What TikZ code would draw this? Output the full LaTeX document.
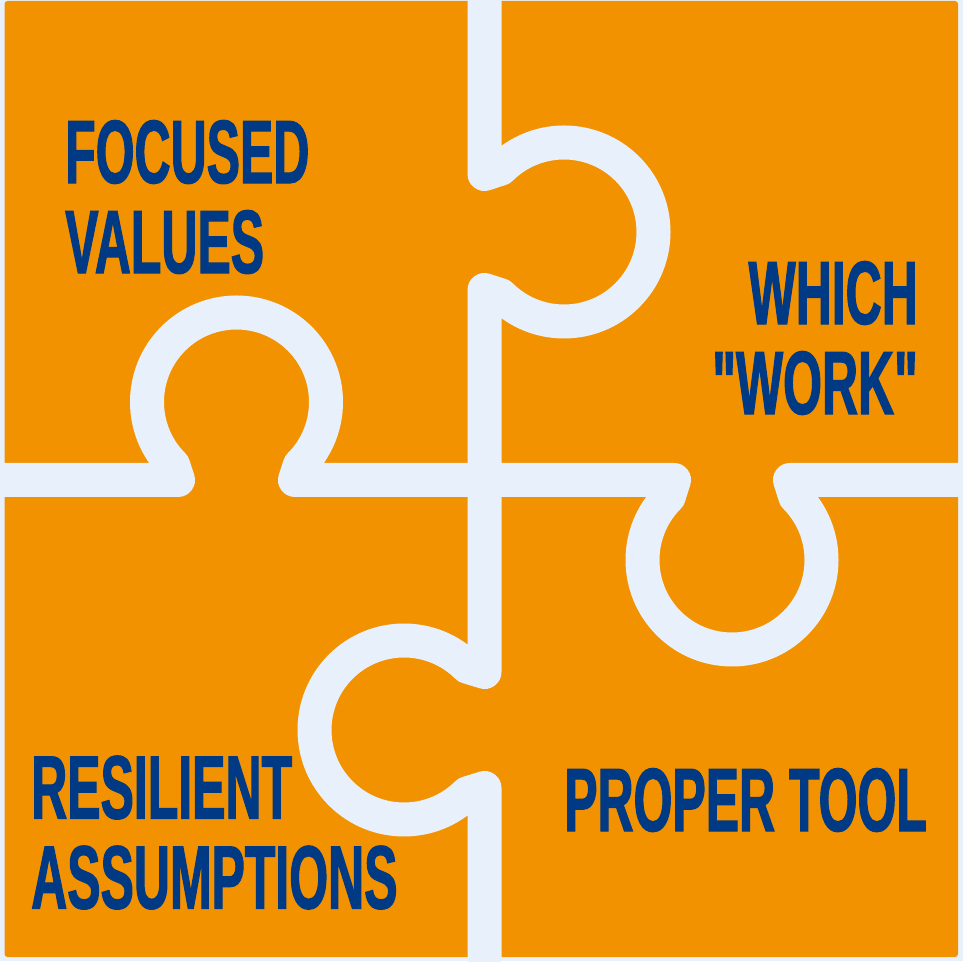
\documentclass[tikz,border=0pt]{standalone}
\usepackage{fontspec}
\newfontfamily\puzzlefont[FakeStretch=0.555,FakeBold=1.2]{Liberation Sans}
\definecolor{piece}{RGB}{243,146,0}
\definecolor{gap}{RGB}{232,241,251}
\definecolor{ink}{RGB}{0,58,132}

\begin{document}
\begin{tikzpicture}
[x=1pt,y=1pt,
every node/.style={text=ink,inner sep=0pt,font=\puzzlefont\bfseries\fontsize{90}{90}\selectfont},
cut/.style={draw=gap,line width=34pt,line join=round},
]
\useasboundingbox (0,0) rectangle (963,961);
\fill[gap] (0,0) rectangle (963,961);
\fill[piece,rounded corners=3pt] (4.5,4) rectangle (958,960);

\coordinate (knobL) at (236.5,559);
\coordinate (knobR) at (732,401);
\coordinate (knobT) at (564,729);
\coordinate (knobB) at (404,231);

\draw[cut] (-10,481) -- (178,481) -- ([shift={(225:89.5)}]knobL)
  arc[start angle=225,end angle=-45,radius=89.5] -- (295,481)
  -- (674,481) -- ([shift={(135:89.5)}]knobR)
  arc[start angle=135,end angle=405,radius=89.5] -- (790,481) -- (975,481);
\draw[cut] (484.5,975) -- (484.5,787) -- ([shift={(135:89.5)}]knobT)
  arc[start angle=135,end angle=-135,radius=89.5] -- (484.5,671)
  -- (484.5,289) -- ([shift={(45:89.5)}]knobB)
  arc[start angle=45,end angle=315,radius=89.5] -- (484.5,173) -- (484.5,-10);

\node[anchor=north west,align=left] (focused) at (65,841) {FOCUSED\\VALUES};
\node[anchor=north east,align=right] (which) at (918,700) {WHICH\\"WORK"};
\node[anchor=north west,align=left] (resilient) at (31,205.5) {RESILIENT\\ASSUMPTIONS};
\node[anchor=north west] (tool) at (564,193) {PROPER TOOL};
\end{tikzpicture}
\end{document}
